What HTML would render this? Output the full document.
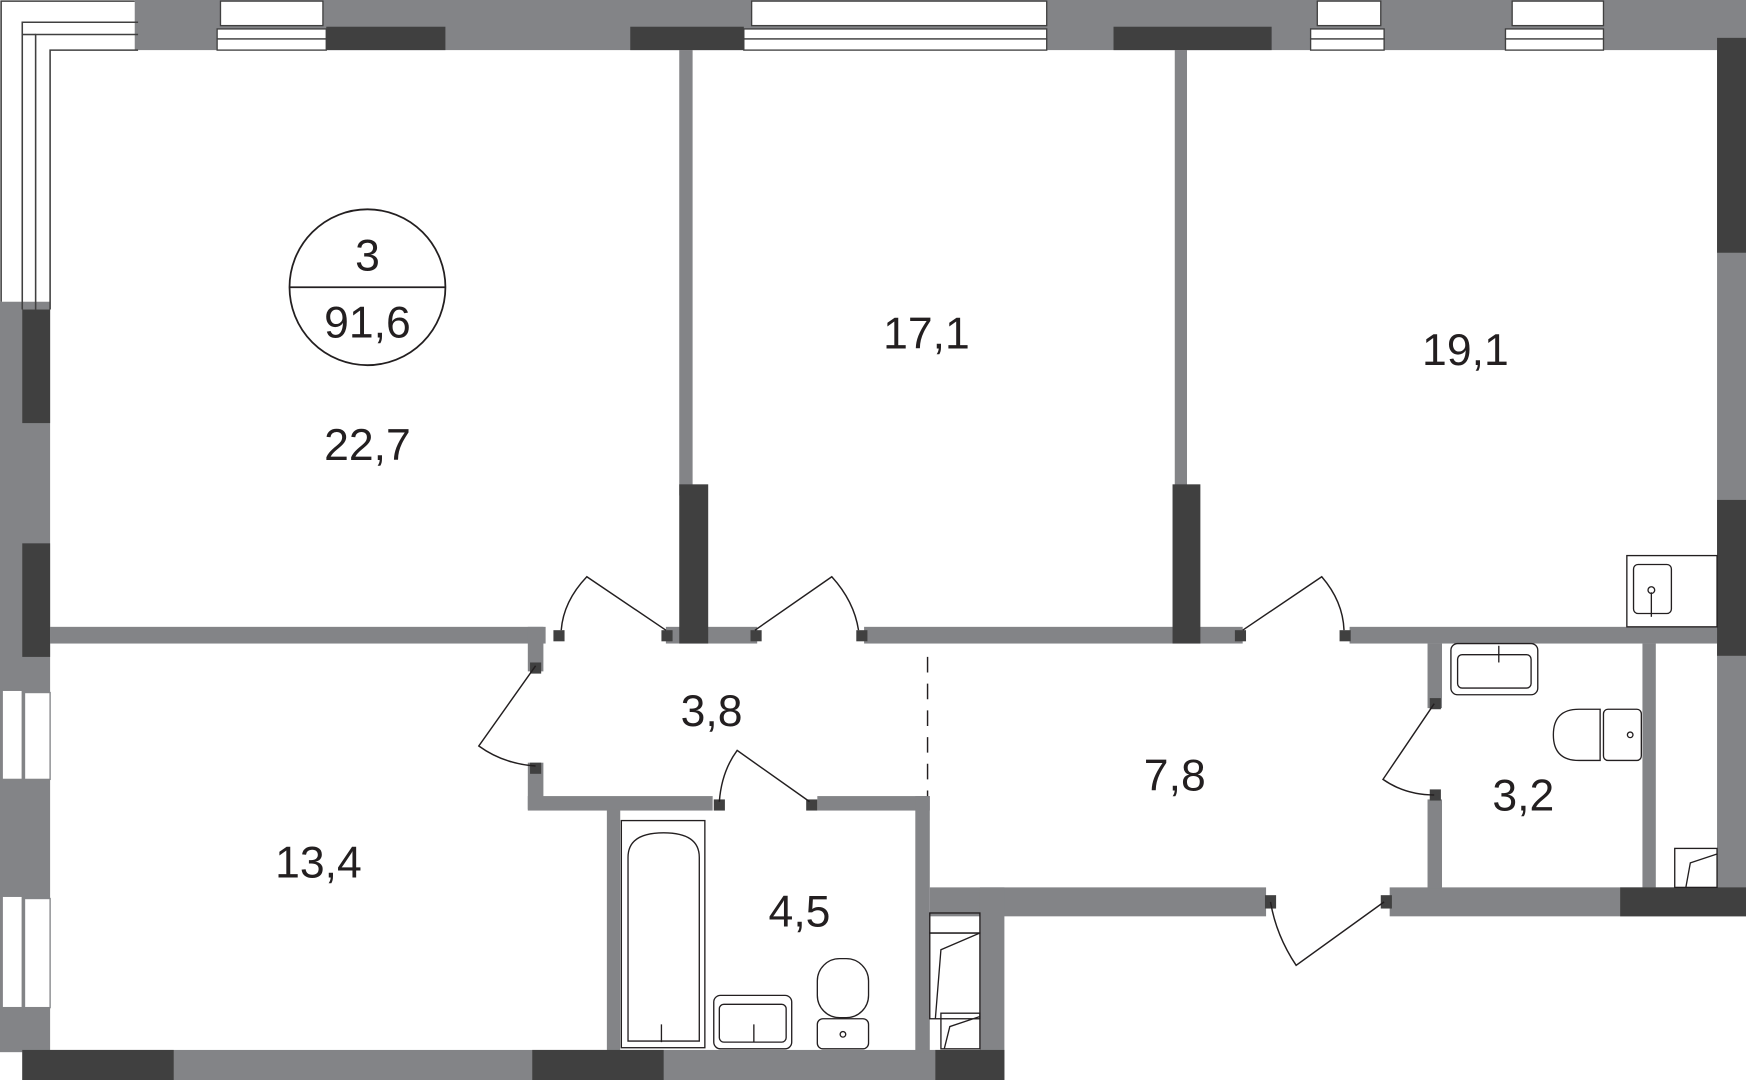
<!DOCTYPE html>
<html><head><meta charset="utf-8"><style>
html,body{margin:0;padding:0;background:#fff;}
svg{display:block;}
text{font-family:"Liberation Sans",sans-serif;fill:#231f20;}
</style></head><body>
<svg width="1746" height="1080" viewBox="0 0 1568 970" preserveAspectRatio="none" xmlns="http://www.w3.org/2000/svg">
<rect width="1568" height="970" fill="#fff"/>
<g fill="#838487">
<rect x="121" y="0" width="1447" height="45"/>
<rect x="0" y="271" width="45" height="674"/>
<rect x="20" y="943" width="882" height="27"/>
<rect x="1542" y="34" width="26" height="774"/>
<rect x="1248" y="797" width="320" height="26"/>
<rect x="835" y="797" width="302" height="26"/>
<rect x="880" y="797" width="22" height="173"/>
<rect x="610" y="45" width="12" height="400"/>
<rect x="1055" y="45" width="11" height="400"/>
<rect x="45" y="563" width="445" height="15"/>
<rect x="598" y="563" width="82" height="15"/>
<rect x="776" y="563" width="340" height="15"/>
<rect x="1212" y="563" width="330" height="15"/>
<rect x="474" y="563" width="14" height="40"/>
<rect x="474" y="685" width="14" height="42"/>
<rect x="474" y="715" width="166" height="13"/>
<rect x="734" y="715" width="101" height="13"/>
<rect x="545" y="727" width="12" height="218"/>
<rect x="822" y="715" width="13" height="230"/>
<rect x="1282" y="578" width="13" height="58"/>
<rect x="1282" y="718" width="13" height="80"/>
<rect x="1475" y="578" width="12" height="220"/>
</g>
<g fill="#404040">
<rect x="293" y="24" width="107" height="21"/>
<rect x="566" y="24" width="102" height="21"/>
<rect x="1000" y="24" width="142" height="21"/>
<rect x="20" y="278" width="25" height="102"/>
<rect x="20" y="488" width="25" height="102"/>
<rect x="20" y="943" width="136" height="27"/>
<rect x="478" y="943" width="118" height="27"/>
<rect x="840" y="943" width="62" height="27"/>
<rect x="1542" y="34" width="26" height="193"/>
<rect x="1542" y="449" width="26" height="140"/>
<rect x="1455" y="797" width="113" height="26"/>
<rect x="610" y="435" width="26" height="143"/>
<rect x="1053" y="435" width="25" height="143"/>
<rect x="497" y="566" width="10" height="10"/><rect x="594" y="566" width="10" height="10"/>
<rect x="674" y="566" width="10" height="10"/><rect x="769" y="566" width="10" height="10"/>
<rect x="1109" y="566" width="10" height="10"/><rect x="1203" y="566" width="10" height="10"/>
<rect x="476" y="595" width="10" height="10"/><rect x="476" y="685" width="10" height="10"/>
<rect x="641" y="718" width="10" height="10"/><rect x="724" y="718" width="10" height="10"/>
<rect x="1284" y="627" width="10" height="10"/><rect x="1284" y="709" width="10" height="10"/>
<rect x="1136" y="804" width="10" height="12"/><rect x="1240" y="804" width="10" height="12"/>
</g>
<g fill="#fff" stroke="#404040" stroke-width="1.2">
<rect x="198" y="1" width="92" height="22"/><rect x="195" y="26" width="98" height="9"/><rect x="195" y="35" width="98" height="10"/>
<rect x="675" y="1" width="265" height="22"/><rect x="668" y="26" width="272" height="9"/><rect x="668" y="35" width="272" height="10"/>
<rect x="1183" y="1" width="57" height="22"/><rect x="1177" y="26" width="66" height="9"/><rect x="1177" y="35" width="66" height="10"/>
<rect x="1358" y="1" width="82" height="22"/><rect x="1352" y="26" width="88" height="9"/><rect x="1352" y="35" width="88" height="10"/>
</g>
<!-- left corner window -->
<g fill="none" stroke="#404040" stroke-width="1.4">
<path d="M1 271 V1 H121"/>
<path d="M20 278 V20 H124"/>
<path d="M32 278 V31 H124"/><path d="M20 31 H32"/>
<path d="M45 278 V45 H124"/>
</g>
<g fill="#fff" stroke="#838487" stroke-width="1.2">
<rect x="2" y="620" width="18" height="80"/><rect x="22" y="622" width="23" height="78"/>
<rect x="2" y="805" width="18" height="100"/><rect x="22" y="807" width="23" height="98"/>
</g>
<g fill="none" stroke="#231f20" stroke-width="1.3">
<path d="M598 566 L527 518 Q506 540 504 566"/>
<path d="M678 566 L747 518 Q767 540 771 566"/>
<path d="M1116 566 L1187 518 Q1206 540 1207 566"/>
<path d="M481 598 L430 670 Q452 686 481 688"/>
<path d="M727 720 L662 674 Q648 693 646 720"/>
<path d="M1288 632 L1242 700 Q1262 714 1288 714"/>
<path d="M1243 810 L1164 867 Q1146 840 1141 810"/>
<path d="M833 590 V715" stroke-dasharray="14,10"/>
</g>
<g fill="none" stroke="#231f20" stroke-width="1.2">
<rect x="558" y="737" width="75" height="204"/>
<path d="M564 935 V770 Q564 748 596 748 Q628 748 628 770 V935 Z"/>
<rect x="641" y="894" width="70" height="48" rx="6"/>
<rect x="646" y="902" width="60" height="34" rx="4"/>
<rect x="734" y="861" width="46" height="53" rx="20"/>
<rect x="734" y="915" width="46" height="27" rx="5"/>
<circle cx="757" cy="929" r="2.5"/>
<path d="M594 920 v16 M677 920 v16"/>
<rect x="835" y="820" width="45" height="18"/>
<rect x="835" y="838" width="45" height="77"/>
<path d="M880 838 L845 853 L840 915"/>
<rect x="845" y="910" width="35" height="32"/>
<path d="M880 913 L853 922 L848 942"/>
<rect x="1461" y="499" width="81" height="64"/>
<rect x="1467" y="507" width="34" height="44" rx="4"/>
<path d="M1483 532 v22"/><circle cx="1483" cy="530" r="3"/>
<rect x="1303" y="578" width="78" height="46" rx="6"/>
<rect x="1309" y="588" width="66" height="30" rx="4"/>
<path d="M1346 580 v15"/>
<path d="M1437 637 H1418 Q1395 637 1395 660 Q1395 683 1418 683 H1437 Z"/>
<rect x="1440" y="637" width="34" height="46" rx="4"/>
<circle cx="1464" cy="660" r="2.5"/>
<rect x="1504" y="762" width="38" height="35"/>
<path d="M1542 767 L1518 775 L1514 797"/>
</g>
<ellipse cx="330" cy="258" rx="70" ry="70" fill="none" stroke="#231f20" stroke-width="1.6"/>
<line x1="260" y1="258" x2="400" y2="258" stroke="#231f20" stroke-width="1.6"/>
<g font-size="40">
<text x="330" y="243" text-anchor="middle">3</text>
<text x="330" y="303" text-anchor="middle">91,6</text>
<text x="330" y="413" text-anchor="middle">22,7</text>
<text x="832" y="313" text-anchor="middle">17,1</text>
<text x="1316" y="328" text-anchor="middle">19,1</text>
<text x="639" y="652" text-anchor="middle">3,8</text>
<text x="1055" y="710" text-anchor="middle">7,8</text>
<text x="1368" y="728" text-anchor="middle">3,2</text>
<text x="286" y="788" text-anchor="middle">13,4</text>
<text x="718" y="832" text-anchor="middle">4,5</text>
</g>
</svg>
</body></html>
